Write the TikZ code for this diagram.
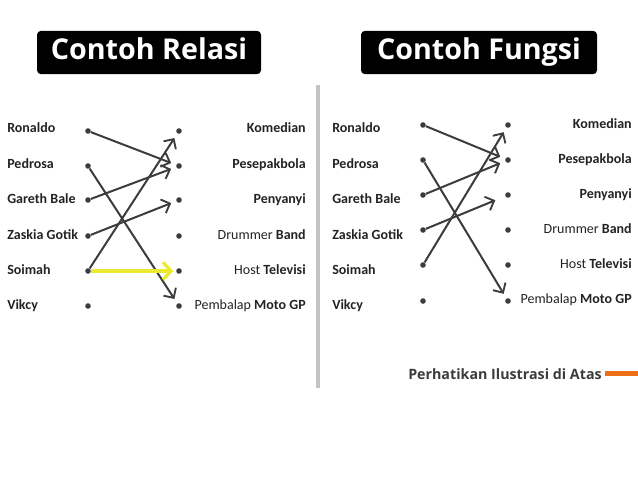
\documentclass[tikz,border=0pt]{standalone}
\usepackage{fontspec}
\setmainfont{Carlito}
\newfontfamily\headfont{Open Sans}
\usetikzlibrary{arrows.meta}
\definecolor{ink}{RGB}{60,60,60}
\definecolor{txt}{RGB}{35,35,35}
\definecolor{glow}{RGB}{236,234,48}
\definecolor{divider}{RGB}{195,195,195}
\definecolor{accent}{RGB}{237,112,24}
\tikzset{
    dot/.style={circle,fill=ink,inner sep=0pt,minimum size=4.2pt},
    lab/.style={text=txt,inner sep=0pt,text height=6.9pt,text depth=0pt,font=\fontsize{10.5}{12}\selectfont},
    judul/.style={fill=black,rounded corners=3pt,text=white,minimum height=32.5pt,text height=15pt,text depth=4pt,font=\headfont\bfseries\fontsize{21.5}{24}\selectfont},
    arr/.style={ink,line width=1.5pt,-{Straight Barb[length=5.5pt,width=11pt,line width=1.4pt]},shorten >=4pt},
    hl/.style={glow,line width=2.8pt,-{Straight Barb[length=6pt,width=13pt,line width=2.5pt]},shorten >=2pt}
}
\begin{document}
\begin{tikzpicture}[x=0.75pt,y=-0.75pt]
    \useasboundingbox (0,0) rectangle (638,479);

    \node[judul,minimum width=168pt] (relasi) at (149,52.5) {Contoh Relasi};
    \node[judul,minimum width=177pt] (fungsi) at (479,52.5) {Contoh Fungsi};

    \draw[divider,line width=2.4pt] (318,85) -- (318,388);

    \node[lab,anchor=west] (l1) at (7,128) {\textbf{Ronaldo}};
    \node[lab,anchor=west] (l2) at (7,164) {\textbf{Pedrosa}};
    \node[lab,anchor=west] (l3) at (7,199) {\textbf{Gareth Bale}};
    \node[lab,anchor=west] (l4) at (7,235) {\textbf{Zaskia Gotik}};
    \node[lab,anchor=west] (l5) at (7,270) {\textbf{Soimah}};
    \node[lab,anchor=west] (l6) at (7,305) {\textbf{Vikcy}};

    \node[dot] (ra1) at (88,131) {};
    \node[dot] (ra2) at (88,166) {};
    \node[dot] (ra3) at (88,200) {};
    \node[dot] (ra4) at (88,236) {};
    \node[dot] (ra5) at (88,271) {};
    \node[dot] (ra6) at (88,306) {};

    \node[dot] (rb1) at (179,131) {};
    \node[dot] (rb2) at (179,166) {};
    \node[dot] (rb3) at (179,200) {};
    \node[dot] (rb4) at (179,236) {};
    \node[dot] (rb5) at (179,271) {};
    \node[dot] (rb6) at (179,306) {};

    \node[lab,anchor=east] (k1) at (306,128) {\textbf{Komedian}};
    \node[lab,anchor=east] (k2) at (306,164) {\textbf{Pesepakbola}};
    \node[lab,anchor=east] (k3) at (306,199) {\textbf{Penyanyi}};
    \node[lab,anchor=east] (k4) at (306,235) {Drummer \textbf{Band}};
    \node[lab,anchor=east] (k5) at (306,270) {Host \textbf{Televisi}};
    \node[lab,anchor=east] (k6) at (306,305) {Pembalap \textbf{Moto GP}};

    \draw[arr] (ra1) -- (rb2);
    \draw[arr] (ra2) -- (rb6);
    \draw[arr] (ra3) -- (rb2);
    \draw[arr] (ra4) -- (rb3);
    \draw[arr] (ra5) -- (rb1);
    \draw[hl] (ra5) -- (rb5);

    \node[lab,anchor=west] (m1) at (332,128) {\textbf{Ronaldo}};
    \node[lab,anchor=west] (m2) at (332,164) {\textbf{Pedrosa}};
    \node[lab,anchor=west] (m3) at (332,199) {\textbf{Gareth Bale}};
    \node[lab,anchor=west] (m4) at (332,235) {\textbf{Zaskia Gotik}};
    \node[lab,anchor=west] (m5) at (332,270) {\textbf{Soimah}};
    \node[lab,anchor=west] (m6) at (332,305) {\textbf{Vikcy}};

    \node[dot] (fa1) at (423,125) {};
    \node[dot] (fa2) at (423,160) {};
    \node[dot] (fa3) at (423,195) {};
    \node[dot] (fa4) at (423,230) {};
    \node[dot] (fa5) at (423,265) {};
    \node[dot] (fa6) at (423,301) {};

    \node[dot] (fb1) at (508,125) {};
    \node[dot] (fb2) at (508,160) {};
    \node[dot] (fb3) at (508,195) {};
    \node[dot] (fb4) at (508,230) {};
    \node[dot] (fb5) at (508,265) {};
    \node[dot] (fb6) at (508,301) {};

    \node[lab,anchor=east] (n1) at (632,124) {\textbf{Komedian}};
    \node[lab,anchor=east] (n2) at (632,159) {\textbf{Pesepakbola}};
    \node[lab,anchor=east] (n3) at (632,194) {\textbf{Penyanyi}};
    \node[lab,anchor=east] (n4) at (632,229) {Drummer \textbf{Band}};
    \node[lab,anchor=east] (n5) at (632,264) {Host \textbf{Televisi}};
    \node[lab,anchor=east] (n6) at (632,299) {Pembalap \textbf{Moto GP}};

    \draw[arr] (fa1) -- (fb2);
    \draw[arr] (fa2) -- (fb6);
    \draw[arr] (fa3) -- (fb2);
    \draw[arr,shorten >=8pt] (fa4) -- (fb3);
    \draw[arr] (fa5) -- (fb1);

    \node[anchor=east,inner sep=0pt,text=ink,font=\headfont\bfseries\fontsize{10.7}{12}\selectfont] (catatan) at (602,374) {Perhatikan Ilustrasi di Atas};
    \fill[accent] (605,371) rectangle (638,376);
\end{tikzpicture}
\end{document}
